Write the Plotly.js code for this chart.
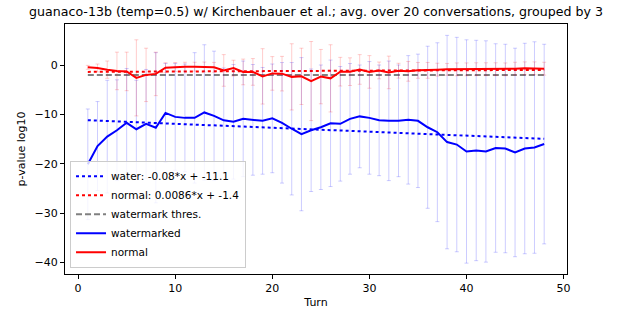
<!DOCTYPE html>
<html>
<head>
<meta charset="utf-8">
<script src="https://cdn.plot.ly/plotly-3.0.1.min.js"></script>
<style>html,body{margin:0;padding:0;background:#fff;}#chart{width:632px;height:317px;}</style>
</head>
<body>
<div id="chart"></div>
<script>
const turns = [1,2,3,4,5,6,7,8,9,10,11,12,13,14,15,16,17,18,19,20,21,22,23,24,25,26,27,28,29,30,31,32,33,34,35,36,37,38,39,40,41,42,43,44,45,46,47,48];
const watermarked = [-20.1,-16.4,-14.5,-13.2,-11.7,-13.0,-11.9,-12.7,-9.7,-10.5,
  -10.7,-10.7,-9.6,-10.3,-11.2,-11.5,-10.9,-11.1,-11.3,-10.8,
  -11.7,-12.9,-14.0,-13.2,-12.6,-11.8,-11.9,-10.9,-10.4,-10.7,
  -11.2,-11.3,-11.3,-11.1,-11.3,-12.6,-13.6,-15.6,-16.1,-17.5,
  -17.3,-17.5,-16.8,-16.9,-17.7,-16.9,-16.7,-16.0];
const watermarkedErr = [11.2,9.0,11.4,10.2,11.0,9.9,11.0,15.2,10.0,10.8,
  10.9,13.2,13.7,13.1,10.6,11.6,11.7,11.2,10.8,11.0,
  12.2,13.4,15.5,12.4,12.6,12.8,11.6,11.2,10.4,11.4,
  11.2,12.1,11.3,13.0,13.5,16.4,18.1,21.6,21.7,22.6,
  22.3,22.4,21.1,21.1,21.1,21.3,21.4,20.2];
const normal = [-0.47,-0.6,-0.94,-1.2,-1.3,-2.6,-2.0,-1.8,-0.54,-0.4,
  -0.34,-0.34,-0.4,-0.47,-1.1,-0.63,-1.4,-1.4,-2.3,-1.7,
  -1.75,-2.4,-2.3,-3.25,-2.35,-2.7,-1.35,-1.35,-0.9,-1.4,
  -1.1,-1.5,-1.15,-1.28,-1.08,-1.08,-0.94,-0.88,-0.88,-0.88,
  -0.85,-0.85,-0.85,-0.88,-0.74,-0.67,-0.67,-0.74];
const normalErr = [0.4,0.8,1.75,3.8,3.9,7.7,5.4,4.4,1.0,0.9,
  0.9,0.9,1.0,1.0,3.2,1.6,2.6,2.7,5.6,3.4,
  3.5,6.7,5.7,8.0,5.5,6.8,2.9,2.8,3.0,3.3,
  1.7,3.3,1.5,2.0,1.6,1.6,1.3,1.2,1.3,1.3,
  1.3,1.3,1.3,1.3,1.3,1.3,1.3,1.3];
const fitX = [1, 48];
const waterFitY = [-11.18, -14.94];
const normalFitY = [-1.39, -0.99];
const threshX = [1, 48];
const threshY = [-2.0, -2.0];
const legendNames = ["water: -0.08*x + -11.1", "normal: 0.0086*x + -1.4", "watermark thres.", "watermarked", "normal"];
const xTicks = [0,10,20,30,40,50];
const yTicks = [-40,-30,-20,-10,0];

const traces = [
  {x: fitX, y: waterFitY, mode: 'lines', name: legendNames[0], line: {color: 'blue', width: 2, dash: 'dot'}},
  {x: fitX, y: normalFitY, mode: 'lines', name: legendNames[1], line: {color: 'red', width: 2, dash: 'dot'}},
  {x: threshX, y: threshY, mode: 'lines', name: legendNames[2], line: {color: 'gray', width: 2, dash: '6px,3px'}},
  {x: turns, y: watermarked, mode: 'lines', name: legendNames[3], line: {color: 'blue', width: 2},
   error_y: {type: 'data', array: watermarkedErr, visible: true, color: 'rgba(0,0,255,0.2)', thickness: 1, width: 2}},
  {x: turns, y: normal, mode: 'lines', name: legendNames[4], line: {color: 'red', width: 2},
   error_y: {type: 'data', array: normalErr, visible: true, color: 'rgba(255,0,0,0.2)', thickness: 1, width: 2}}
];

const axisCommon = {showgrid: false, zeroline: false, showline: true, mirror: true, linecolor: '#000', linewidth: 1,
  ticks: 'outside', ticklen: 4, tickcolor: '#000', tickfont: {family: 'DejaVu Sans', size: 11, color: '#000'}};

const layout = {
  width: 632, height: 317,
  margin: {l: 65, r: 65, t: 24, b: 43},
  paper_bgcolor: '#fff', plot_bgcolor: '#fff',
  font: {family: 'DejaVu Sans', color: '#000'},
  title: {text: 'guanaco-13b (temp=0.5) w/ Kirchenbauer et al.; avg. over 20 conversations, grouped by 3',
    font: {family: 'DejaVu Sans', size: 12.6, color: '#000'}, x: 0.5, xref: 'paper', y: 0.962, yref: 'container', yanchor: 'middle'},
  xaxis: Object.assign({}, axisCommon, {range: [-1.35, 50.35], tickvals: xTicks,
    title: {text: 'Turn', font: {family: 'DejaVu Sans', size: 11, color: '#000'}, standoff: 4}}),
  yaxis: Object.assign({}, axisCommon, {range: [-42.3, 8.3], tickvals: yTicks,
    title: {text: 'p-value log10', font: {family: 'DejaVu Sans', size: 11, color: '#000'}, standoff: 6}}),
  showlegend: true,
  legend: {x: 0.01, y: 0.025, xanchor: 'left', yanchor: 'bottom', bgcolor: 'rgba(255,255,255,0.8)',
    bordercolor: '#ccc', borderwidth: 1, font: {family: 'DejaVu Sans', size: 10.5, color: '#000'},
    itemwidth: 30, tracegroupgap: 0}
};

Plotly.newPlot('chart', traces, layout, {displayModeBar: false, staticPlot: true});
</script>
</body>
</html>
